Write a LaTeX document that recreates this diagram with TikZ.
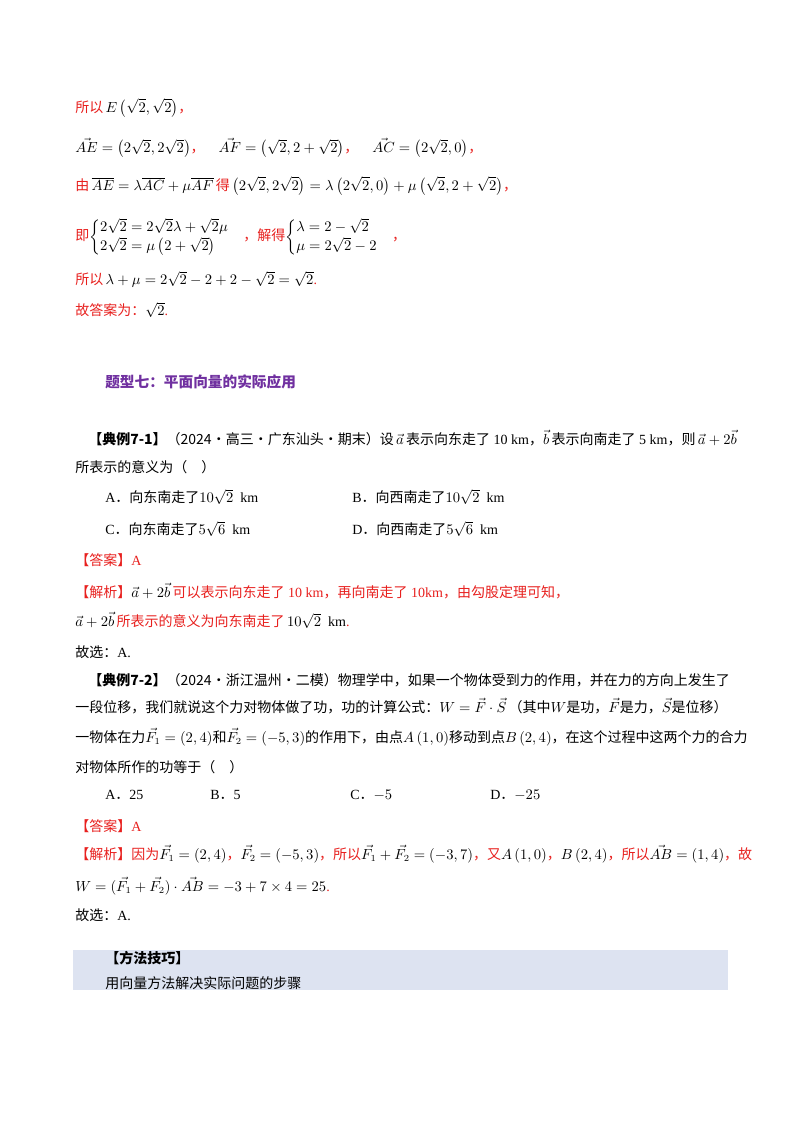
\documentclass[tikz,border=0pt]{standalone}
\usepackage{fontspec}
\usepackage{amsmath}
\setmainfont{Liberation Serif}
\newfontfamily\zhf{Noto Sans CJK SC}
\newcommand{\zh}[1]{{\zhf #1}}
\definecolor{ans}{HTML}{E8201E}
\definecolor{pur}{HTML}{7030A0}
\definecolor{boxc}{HTML}{DDE3F1}
\begin{document}
\begin{tikzpicture}[x=0.75pt,y=-0.75pt,
  ln/.style={anchor=west,inner sep=0pt,font=\fontsize{10.5}{12}\selectfont},
  rd/.style={ln,text=ans}]
\useasboundingbox (0,0) rectangle (800,1132);
\fill[white] (0,0) rectangle (800,1132);
\node[rd] (l1) at (75,108) {\zh{所以}\,\textcolor{black}{$E\left(\sqrt2,\sqrt2\right)$}\zh{，}};
\node[ln] (l2) at (75,148) {$\vec{AE}=\left(2\sqrt2,2\sqrt2\right)$\textcolor{ans}{\zh{，}}\quad$\vec{AF}=\left(\sqrt2,2+\sqrt2\right)$\textcolor{ans}{\zh{，}}\quad$\vec{AC}=\left(2\sqrt2,0\right)$\textcolor{ans}{\zh{，}}};
\node[rd] (l3) at (75,186) {\zh{由}\,\textcolor{black}{$\overline{AE}=\lambda\overline{AC}+\mu\overline{AF}$}\,\zh{得}\,\textcolor{black}{$\left(2\sqrt2,2\sqrt2\right)=\lambda\left(2\sqrt2,0\right)+\mu\left(\sqrt2,2+\sqrt2\right)$}\zh{，}};
\node[rd] (l4) at (75,237) {\zh{即}\textcolor{black}{$\begin{cases}2\sqrt2=2\sqrt2\lambda+\sqrt2\mu\\ 2\sqrt2=\mu\left(2+\sqrt2\right)\end{cases}$}\zh{，解得}\textcolor{black}{$\begin{cases}\lambda=2-\sqrt2\\ \mu=2\sqrt2-2\end{cases}$}\zh{，}};
\node[rd] (l5) at (75,279) {\zh{所以}\,\textcolor{black}{$\lambda+\mu=2\sqrt2-2+2-\sqrt2=\sqrt2$}.};
\node[rd] (l6) at (75,310) {\zh{故答案为：}\textcolor{black}{$\sqrt2$}.};
\node[ln,text=pur,font=\fontsize{11}{12}\selectfont\zhf\bfseries] (h) at (105,382) {题型七：平面向量的实际应用};
\node[ln] (e1) at (88,438) {\zh{\textbf{【典例7-1】}（2024·高三·广东汕头·期末）设}\,$\vec a$\,\zh{表示向东走了} 10 km\zh{，}$\vec b$\,\zh{表示向南走了} 5 km\zh{，则}\,$\vec a+2\vec b$};
\node[ln] (e1b) at (75,467) {\zh{所表示的意义为（\quad ）}};
\node[ln] (oA) at (105,497) {A\zh{．向东南走了}$10\sqrt2$\ \ km};
\node[ln] (oB) at (352,497) {B\zh{．向西南走了}$10\sqrt2$\ \ km};
\node[ln] (oC) at (105,529) {C\zh{．向东南走了}$5\sqrt6$\ \ km};
\node[ln] (oD) at (352,529) {D\zh{．向西南走了}$5\sqrt6$\ \ km};
\node[rd] (a1) at (75,560) {\zh{【答案】}A};
\node[rd] (j1) at (75,591) {\zh{【解析】}\textcolor{black}{$\vec a+2\vec b$}\,\zh{可以表示向东走了} 10 km\zh{，再向南走了} 10km\zh{，由勾股定理可知，}};
\node[rd] (j1b) at (75,620) {\textcolor{black}{$\vec a+2\vec b$}\,\zh{所表示的意义为向东南走了}\,\textcolor{black}{$10\sqrt2$\ \ km}.};
\node[ln] (s1) at (75,652) {\zh{故选：}A.};
\node[ln] (e2) at (88,680) {\zh{\textbf{【典例7-2】}（2024·浙江温州·二模）物理学中，如果一个物体受到力的作用，并在力的方向上发生了}};
\node[ln] (e2b) at (75,706) {\zh{一段位移，我们就说这个力对物体做了功，功的计算公式：}$W=\vec F\cdot\vec S$\,\zh{（其中}$W$\zh{是功，}$\vec F$\zh{是力，}$\vec S$\zh{是位移）}};
\node[ln] (e2c) at (75,737) {\zh{一物体在力}$\vec{F_1}=\left(2,4\right)$\zh{和}$\vec{F_2}=\left(-5,3\right)$\zh{的作用下，由点}$A\left(1,0\right)$\zh{移动到点}$B\left(2,4\right)$\zh{，在这个过程中这两个力的合力}};
\node[ln] (e2d) at (75,767) {\zh{对物体所作的功等于（\quad ）}};
\node[ln] (pA) at (105,795) {A\zh{．}25};
\node[ln] (pB) at (210,795) {B\zh{．}5};
\node[ln] (pC) at (350,795) {C\zh{．}$-5$};
\node[ln] (pD) at (490,795) {D\zh{．}$-25$};
\node[rd] (a2) at (75,826) {\zh{【答案】}A};
\node[rd] (j2) at (75,854) {\zh{【解析】因为}\textcolor{black}{$\vec{F_1}=\left(2,4\right)$}\zh{，}\textcolor{black}{$\vec{F_2}=\left(-5,3\right)$}\zh{，所以}\textcolor{black}{$\vec{F_1}+\vec{F_2}=(-3,7)$}\zh{，又}\textcolor{black}{$A\left(1,0\right)$}\zh{，}\textcolor{black}{$B\left(2,4\right)$}\zh{，所以}\textcolor{black}{$\vec{AB}=(1,4)$}\zh{，故}};
\node[rd] (j2b) at (75,886) {\textcolor{black}{$W=(\vec{F_1}+\vec{F_2})\cdot\vec{AB}=-3+7\times4=25$}.};
\node[ln] (s2) at (75,915) {\zh{故选：}A.};
\fill[boxc] (73,950) rectangle (728,990);
\node[ln] (m1) at (105,958) {\zh{\textbf{【方法技巧】}}};
\node[ln] (m2) at (105,983) {\zh{用向量方法解决实际问题的步骤}};
\end{tikzpicture}
\end{document}
